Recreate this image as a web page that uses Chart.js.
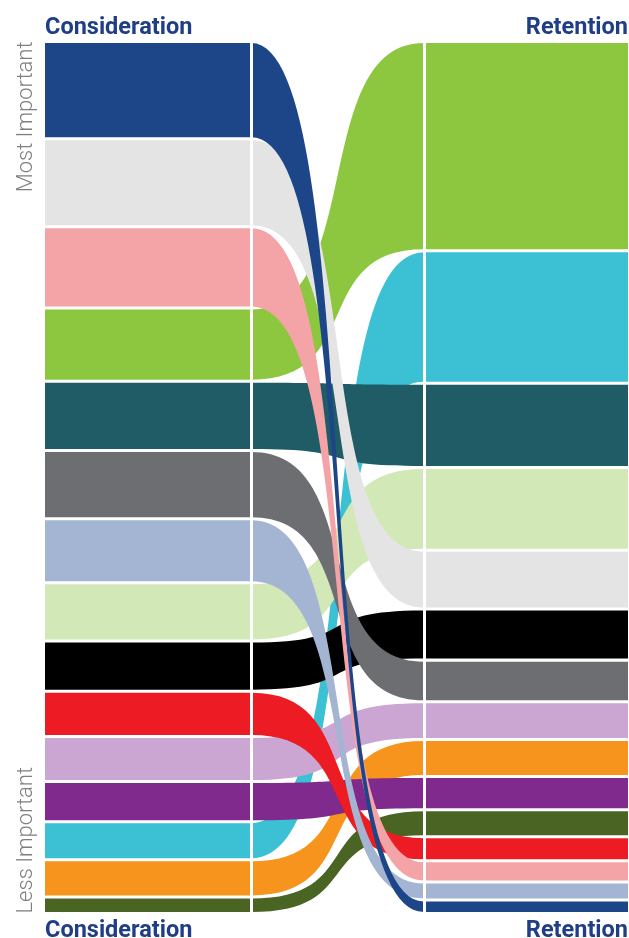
<!DOCTYPE html>
<html>
<head>
<meta charset="utf-8">
<title>Consideration vs Retention</title>
<script src="https://cdn.jsdelivr.net/npm/chart.js@4.4.1/dist/chart.umd.min.js"></script>
<style>
  html, body { margin: 0; padding: 0; background: #fff; }
  #chart { display: block; }
</style>
</head>
<body>
<canvas id="chart" width="629" height="938"></canvas>
<script>
// factors listed in Consideration order (top = most important)
const factors = [
  "Navy", "Light gray", "Pink", "Green", "Teal", "Gray", "Steel blue", "Pale green",
  "Black", "Red", "Lavender", "Purple", "Cyan", "Orange", "Olive"
];
const consideration = [97, 87.5, 81, 73, 69, 68, 64, 58, 50, 45, 45, 40, 38, 37, 16.5];
const retention = [13.5, 58.5, 21, 208.5, 84, 41.5, 18, 82.5, 51, 24, 37.5, 33, 132, 37, 27];
const stageLabels = ["Consideration", "", "", "Retention"];
const sideLabels = ["Most Important", "Less Important"];

// styling / layout
const colors = [
  "#1d4689", "#e4e4e4", "#f4a3a6", "#8dc63f", "#1f5c66", "#6d6e71", "#a3b5d2", "#d2e8b6",
  "#000000", "#ed1c24", "#cba6d3", "#7f2a8c", "#3bc0d4", "#f7941e", "#4a6424"
];
const stageX = [0, 206.3, 379, 583]; // block start, left divider, right divider, block end
const gap = 3;
const headColor = "#1f3e86";

const total = consideration.reduce((a, b) => a + b, 0);

function offsets(values, order) {
  const out = new Array(values.length);
  let acc = 0;
  order.forEach(i => { out[i] = acc; acc += values[i]; });
  return out;
}

const leftOrder = factors.map((_, i) => i);
const rightOrder = leftOrder.slice().sort((a, b) => retention[b] - retention[a]);
const leftStart = offsets(consideration, leftOrder);
const rightStart = offsets(retention, rightOrder);

function edge(l, r) {
  return [
    { x: stageX[0], y: l }, { x: stageX[1], y: l },
    { x: stageX[2], y: r }, { x: stageX[3], y: r }
  ];
}

const datasets = [];
factors.forEach((name, i) => {
  const base = {
    backgroundColor: colors[i], borderColor: colors[i], borderWidth: 0,
    pointRadius: 0, cubicInterpolationMode: "monotone"
  };
  datasets.push({
    ...base, label: name, fill: "+1",
    data: edge(leftStart[i] + gap / 2, rightStart[i] + gap / 2)
  });
  datasets.push({
    ...base, label: name + " (lower edge)", fill: false,
    data: edge(leftStart[i] + consideration[i] - gap / 2, rightStart[i] + retention[i] - gap / 2)
  });
});

// the flows between the two dividers get a steeper S than the monotone default
const linkCurve = {
  id: "linkCurve",
  beforeDatasetsDraw(chart, args, opts) {
    chart.getSortedVisibleDatasetMetas().forEach(meta => {
      const pts = meta.data;
      if (pts.length < 4) return;
      const a = pts[1], b = pts[2];
      const dx = b.x - a.x;
      a.cp2x = a.x + opts.k * dx; a.cp2y = a.y;
      b.cp1x = b.x - opts.k * dx; b.cp1y = b.y;
    });
  }
};

const stageTicks = axis => { axis.ticks = stageX.map(v => ({ value: v })); };
// label sits in the middle of its line box, so lineHeight sets the distance from the plot
const headFont = lh => ({ family: "Roboto", size: 23.5, weight: "bold", lineHeight: lh });
const sideFont = { family: "Roboto", size: 22, weight: "300", lineHeight: 1 };

const sideAxis = (text, align) => ({
  type: "linear", position: "left", stack: "side", min: 0, max: 1,
  ticks: { display: false },
  grid: { display: false, drawTicks: false },
  border: { display: false },
  title: { display: true, text, align, color: "#7f7f7f", font: sideFont, padding: { top: 3, bottom: 7.5 } }
});

new Chart(document.getElementById("chart"), {
  type: "line",
  data: { datasets },
  plugins: [linkCurve],
  options: {
    responsive: false,
    animation: false,
    devicePixelRatio: 1,
    layout: { padding: { left: 12.5, right: 1, top: 14.1, bottom: -11.1 } },
    plugins: {
      legend: { display: false },
      tooltip: { enabled: false },
      linkCurve: { k: 2 / 3 }
    },
    scales: {
      x: {
        type: "linear", position: "bottom", min: stageX[0], max: stageX[3],
        afterBuildTicks: stageTicks,
        ticks: {
          autoSkip: false, maxRotation: 0, align: "inner", padding: 0,
          color: headColor, font: headFont("35.6px"),
          callback: (v, i) => stageLabels[i]
        },
        grid: {
          z: 1, drawTicks: false, lineWidth: 3,
          color: ctx => (ctx.index === 1 || ctx.index === 2) ? "#ffffff" : "rgba(0,0,0,0)"
        },
        border: { display: false }
      },
      xTop: {
        type: "linear", position: "top", min: stageX[0], max: stageX[3],
        afterBuildTicks: stageTicks,
        ticks: {
          autoSkip: false, maxRotation: 0, align: "inner", padding: 0,
          color: headColor, font: headFont("27.4px"),
          callback: (v, i) => stageLabels[i]
        },
        grid: { display: false, drawTicks: false },
        border: { display: false }
      },
      y: { display: false, reverse: true, min: 0, max: total },
      yLess: sideAxis(sideLabels[1], "start"),
      yMost: sideAxis(sideLabels[0], "end")
    }
  }
});
</script>
</body>
</html>
